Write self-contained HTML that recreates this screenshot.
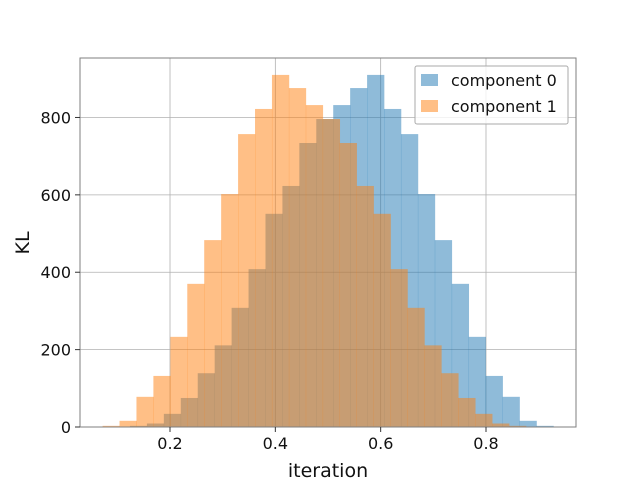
<!DOCTYPE html>
<html><head><meta charset="utf-8"><style>
body{margin:0;background:#fff}
svg text{font-family:"DejaVu Sans","Liberation Sans",sans-serif;fill:#111}
</style></head><body>
<svg id="chart" width="640" height="480" xmlns="http://www.w3.org/2000/svg">
<g id="grid"></g>
<g id="bars"></g>
<rect x="80" y="58" width="496" height="369" fill="none" stroke="#7f7f7f" stroke-width="1"/>
<g id="ticks"></g>
<text x="328" y="477" font-size="19" text-anchor="middle">iteration</text>
<text transform="translate(29,243) rotate(-90)" font-size="19" text-anchor="middle">KL</text>
<g>
<rect x="415" y="66" width="153" height="58" fill="#fff" fill-opacity="0.8" stroke="#aaa" rx="2"/>
<rect x="421" y="74" width="17" height="12" fill="#1f77b4" fill-opacity="0.5"/>
<text x="451" y="86" font-size="16">component 0</text>
<rect x="421" y="100" width="17" height="12" fill="#ff7f0e" fill-opacity="0.5"/>
<text x="451" y="112" font-size="16">component 1</text>
</g>
</svg>
<script>
const binStart0 = 0.124;
const binStart1 = 0.072;
const binWidth = 0.03216;
const counts0 = [3,9,34,75,139,211,308,408,551,623,734,796,832,876,910,822,757,602,483,370,233,132,78,16,3];
const counts1 = [3,16,78,132,233,370,483,602,757,822,910,876,832,796,734,623,551,408,308,211,139,75,34,9,3];
const xTicks = [0.2,0.4,0.6,0.8];
const yTicks = [0,200,400,600,800];
const xTickLabels = ["0.2","0.4","0.6","0.8"];
const yTickLabels = ["0","200","400","600","800"];

const NS="http://www.w3.org/2000/svg";
const X0=80,X1=576,Y0=427,Y1=58;
const xMin=0.0291,xMax=0.9709,yMin=0,yMax=953.7;
function xs(v){return X0+(v-xMin)/(xMax-xMin)*(X1-X0);}
function ys(v){return Y0-(v-yMin)/(yMax-yMin)*(Y0-Y1);}
function mk(tag,parent){const e=document.createElementNS(NS,tag);document.getElementById(parent).appendChild(e);return e;}

xTicks.forEach((t,i)=>{
  const g=mk('line','grid');
  
  
  g.setAttribute('x1',xs(t));g.setAttribute('x2',xs(t));g.setAttribute('y1',Y1);g.setAttribute('y2',Y0);
  g.setAttribute('stroke','#b0b0b0');g.setAttribute('stroke-width','0.8');
  const tk=mk('line','ticks');
  
  
  tk.setAttribute('x1',xs(t));tk.setAttribute('x2',xs(t));tk.setAttribute('y1',Y0);tk.setAttribute('y2',Y0+5);
  tk.setAttribute('stroke','#333');
  const tx=mk('text','ticks');
  
  
  tx.setAttribute('x',xs(t));tx.setAttribute('y',Y0+22);tx.setAttribute('font-size','16');tx.setAttribute('text-anchor','middle');
  tx.textContent=xTickLabels[i];
});
yTicks.forEach((t,i)=>{
  const g=mk('line','grid');
  
  
  g.setAttribute('x1',X0);g.setAttribute('x2',X1);g.setAttribute('y1',ys(t));g.setAttribute('y2',ys(t));
  g.setAttribute('stroke','#b0b0b0');g.setAttribute('stroke-width','0.8');
  const tk=mk('line','ticks');
  
  
  tk.setAttribute('x1',X0-5);tk.setAttribute('x2',X0);tk.setAttribute('y1',ys(t));tk.setAttribute('y2',ys(t));
  tk.setAttribute('stroke','#333');
  const tx=mk('text','ticks');
  
  
  tx.setAttribute('x',X0-9);tx.setAttribute('y',ys(t)+6);tx.setAttribute('font-size','16');tx.setAttribute('text-anchor','end');
  tx.textContent=yTickLabels[i];
});
function drawSeries(counts,start,color,name){
  counts.forEach((c,i)=>{
    const a=start+i*binWidth,b=a+binWidth;
    const r=mk('rect','bars');
    
    
    r.setAttribute('x',xs(a));r.setAttribute('width',xs(b)-xs(a)+0.3);
    r.setAttribute('y',ys(c));r.setAttribute('height',Y0-ys(c));
    r.setAttribute('fill',color);r.setAttribute('fill-opacity','0.5');
  });
}
drawSeries(counts0,binStart0,'#1f77b4','bar-component-0');
drawSeries(counts1,binStart1,'#ff7f0e','bar-component-1');
</script>
</body></html>
